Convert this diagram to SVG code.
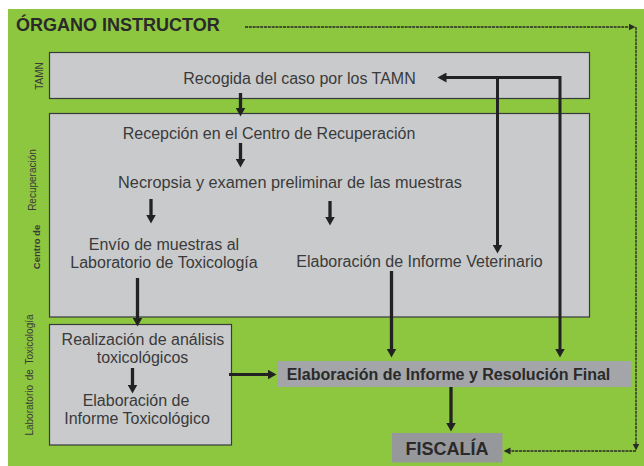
<svg xmlns="http://www.w3.org/2000/svg" width="644" height="466" viewBox="0 0 644 466">
<style>
.box{fill:#c9cacc;stroke:#3a3a3a;stroke-width:1.2}
.t{font-family:"Liberation Sans",Arial,sans-serif;font-size:16px;fill:#3a3a3a;text-anchor:middle}
.b{font-family:"Liberation Sans",Arial,sans-serif;font-weight:bold;fill:#2a2a2a;text-anchor:middle}
.s{font-family:"Liberation Sans",Arial,sans-serif;font-size:10px;fill:#3a3a3a;text-anchor:middle}
.a{fill:none;stroke:#222;stroke-width:3.3;marker-end:url(#ah)}
.d{fill:none;stroke:#2a2a2a;stroke-width:1.4;stroke-dasharray:3 0.8}
</style>
<defs>
<marker id="ah" markerUnits="userSpaceOnUse" markerWidth="10" markerHeight="10" refX="0.5" refY="5" orient="auto-start-reverse" viewBox="0 0 10 10"><path d="M0,0 L9,5 L0,10 z" fill="#222"/></marker>
<marker id="sm" markerUnits="userSpaceOnUse" markerWidth="8" markerHeight="8" refX="0.5" refY="4" orient="auto" viewBox="0 0 8 8"><path d="M0,0.5 L7,4 L0,7.5 z" fill="#2a2a2a"/></marker>
</defs>
<rect x="8" y="9" width="636" height="457" fill="#8dc63f"/>
<g id="title"><text x="16" y="31" class="b" style="font-size:18px;text-anchor:start">ÓRGANO INSTRUCTOR</text></g>
<g id="lane-labels">
<text class="s" transform="translate(43,76) rotate(-90)">TAMN</text>
<text class="s" transform="translate(36,180) rotate(-90)">Recuperación</text>
<text class="s" transform="translate(40,247) rotate(-90)" style="font-weight:bold;font-size:9.5px">Centro de</text>
<text class="s" transform="translate(32.5,375) rotate(-90)" style="word-spacing:2px">Laboratorio de Toxicología</text>
</g>
<g id="tamn"><rect class="box" x="49.5" y="52.5" width="540" height="46"/>
<text class="t" x="299.5" y="84">Recogida del caso por los TAMN</text></g>
<g id="centro"><rect class="box" x="49.5" y="113.5" width="540" height="203.5"/>
<text class="t" x="269" y="139">Recepción en el Centro de Recuperación</text>
<text class="t" x="290" y="188" style="font-size:16.3px">Necropsia y examen preliminar de las muestras</text>
<text class="t" x="164" y="250">Envío de muestras al</text>
<text class="t" x="164" y="268">Laboratorio de Toxicología</text>
<text class="t" x="419.5" y="267">Elaboración de Informe Veterinario</text></g>
<g id="lab"><rect class="box" x="49.5" y="324.5" width="182" height="120.5"/>
<text class="t" x="143" y="345">Realización de análisis</text>
<text class="t" x="142.5" y="363">toxicológicos</text>
<text class="t" x="136" y="406">Elaboración de</text>
<text class="t" x="137" y="424">Informe Toxicológico</text></g>
<g id="final"><rect x="277" y="361" width="354" height="26" fill="#a3a5a8"/>
<text class="b" x="448.5" y="379.5" style="font-size:16px">Elaboración de Informe y Resolución Final</text></g>
<g id="fiscalia"><rect x="392" y="433" width="110.5" height="29.5" fill="#97989b"/>
<text class="b" x="447" y="455" style="font-size:18px">FISCALÍA</text></g>
<g id="connectors">
<path class="a" d="M240.5,93 V108"/>
<path class="a" d="M240.5,143 V159"/>
<path class="a" d="M151,199 V215"/>
<path class="a" d="M330,201 V217"/>
<path class="a" d="M137.5,278 V318"/>
<path class="a" d="M132.5,368 V385"/>
<path class="a" d="M229,374.5 H268" style="stroke-width:2.8"/>
<path class="a" d="M391.5,271 V349"/>
<path class="a" d="M446,77.5 H560 V349" style="stroke-width:3;marker-start:url(#ah);stroke-linejoin:miter"/>
<path class="a" d="M497.5,77.5 V245" style="stroke-width:3"/>
<path class="a" d="M451,387 V423"/>
<path class="d" d="M245,27 H629" marker-end="url(#sm)"/>
<path class="d" d="M636,27 V444" marker-end="url(#sm)"/>
<path class="d" d="M636,451 H510" marker-end="url(#sm)"/>
</g>
</svg>
